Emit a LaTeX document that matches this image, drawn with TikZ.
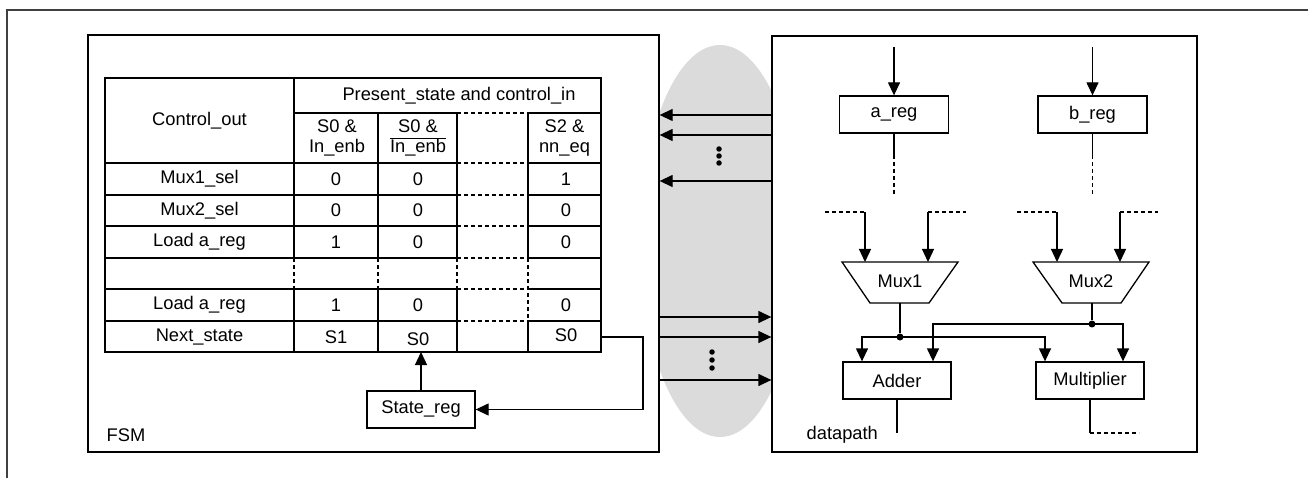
\documentclass[tikz,border=0pt]{standalone}
\usepackage{fontspec}
\setmainfont{Liberation Sans}
\usetikzlibrary{arrows.meta}
\begin{document}
\begin{tikzpicture}[x=1pt,y=-1pt,line width=1.3pt,
  every node/.style={font=\fontsize{18.3}{20}\selectfont,inner sep=0pt},
  blk/.style={draw,line width=1.3pt,fill=white},
  dsh/.style={dash pattern=on 4pt off 3pt},
  arr/.style={-{Triangle[length=13pt,width=12pt]}},
  jdot/.style={circle,fill,minimum size=7pt},
  vdot/.style={circle,fill,minimum size=5.5pt}]
\useasboundingbox (0,0) rectangle (1308,478);

% outer frame
\draw[line width=1.4pt,black!75] (7,478) -- (7,10) -- (1308,10);

% grey interface region between the two blocks
\begin{scope}
  \clip (659,0) rectangle (772,478);
  \fill[black!14] (720,241) ellipse [x radius=80pt,y radius=196pt];
\end{scope}

% the two blocks
\node[draw,minimum width=571pt,minimum height=417pt] (fsm) at (373.5,243.5) {};
\node[draw,minimum width=425pt,minimum height=416pt] (dp) at (984.5,244) {};
\node[anchor=west] (fsmlbl) at (106,435) {FSM};
\node[anchor=west] (dplbl) at (806,435) {datapath};

% ---------- control table ----------
\draw (105,78) rectangle (601,352);
% vertical rules
\draw (294,78) -- (294,258); \draw[dsh] (294,258) -- (294,289); \draw (294,289) -- (294,352);
\draw (378,113) -- (378,258); \draw[dsh] (378,258) -- (378,289); \draw (378,289) -- (378,352);
\draw (457,113) -- (457,258); \draw[dsh] (457,258) -- (457,289); \draw (457,289) -- (457,352);
\draw (528,113) -- (528,258); \draw[dsh] (528,258) -- (528,321); \draw (528,321) -- (528,352);
% horizontal rules
\draw (294,113) -- (457,113); \draw[dsh] (457,113) -- (528,113); \draw (528,113) -- (601,113);
\foreach \y in {163,195,226,258,289,321}{
  \draw (105,\y) -- (457,\y); \draw[dsh] (457,\y) -- (528,\y); \draw (528,\y) -- (601,\y);
}
% header
\node (hco) at (199.5,121) {Control\_out};
\node (hps) at (459,96) {Present\_state and control\_in};
\node[align=center] (h1) at (337,138) {S0 \&\\In\_enb};
\node[align=center] (h2) at (418,138) {S0 \&\\$\overline{\hbox{In\_enb}}$};
\node[align=center] (h4) at (564.5,138) {S2 \&\\nn\_eq};
% body
\foreach \n/\y/\a/\b/\c in {r1/179/Mux1\_sel/0/0, r2/210.5/Mux2\_sel/0/0, r3/242/Load a\_reg/1/0, r5/305/Load a\_reg/1/0}{
  \node (\n a) at (199.5,\y) {\a};
  \node (\n b) at (336,\y) {\b};
  \node (\n c) at (418,\y) {\c};
}
\node (r1d) at (566,179) {1};
\node (r2d) at (566,210.5) {0};
\node (r3d) at (566,242) {0};
\node (r5d) at (566,305) {0};
\node (r6a) at (199.5,337) {Next\_state};
\node (r6b) at (336,337) {S1};
\node (r6c) at (418,339) {S0};
\node (r6d) at (566,335) {S0};

% state register and feedback
\node[blk,minimum width=108pt,minimum height=37pt] (sreg) at (421,409.5) {State\_reg};
\coordinate (tbot) at (421,352);
\coordinate (fbk) at (601,337);
\draw[arr] (sreg.north) -- (tbot);
\draw[arr] (fbk) -- (643,337) |- (sreg.east);

% ---------- interface arrows ----------
\foreach \y in {115,135,181}{
  \draw[arr] (dp.west |- 0,\y) -- (fsm.east |- 0,\y);
}
\foreach \y in {317,337,380}{
  \draw[arr] (fsm.east |- 0,\y) -- (dp.west |- 0,\y);
}
\foreach \y in {149,156,163}{ \node[vdot] at (719,\y) {}; }
\foreach \y in {352,360,368}{ \node[vdot] at (712,\y) {}; }

% ---------- datapath ----------
\node[blk,minimum width=109pt,minimum height=37pt] (areg) at (894,114.5) {a\_reg};
\node[blk,minimum width=109pt,minimum height=37pt] (breg) at (1092.5,114.5) {b\_reg};
\draw[arr] (894,47) -- (areg.north);
\draw[arr] (1092.5,47) -- (breg.north);
\draw (areg.south) -- (894,155); \draw[dsh] (894,155) -- (894,196);
\draw (breg.south) -- (1092.5,155); \draw[dsh] (1092.5,155) -- (1092.5,196);

% multiplexers
\draw (842,262) -- (958,262) -- (929,303) -- (870,303) -- cycle;
\draw (1033,262) -- (1149,262) -- (1121,303) -- (1062,303) -- cycle;
\node (mux1) at (900,281) {Mux1};
\node (mux2) at (1091,281) {Mux2};
\draw[dsh] (825,212) -- (865,212); \draw[arr] (865,212) -- (865,262);
\draw[arr] (928,212) -- (928,262); \draw[dsh] (928,212) -- (966,212);
\draw[dsh] (1017,212) -- (1057,212); \draw[arr] (1057,212) -- (1057,262);
\draw[arr] (1120,212) -- (1120,262); \draw[dsh] (1120,212) -- (1158,212);

% adder and multiplier
\node[blk,minimum width=108pt,minimum height=37pt] (add) at (897,380.5) {Adder};
\node[blk,minimum width=108pt,minimum height=37pt] (mul) at (1090,380.5) {Multiplier};
\node[jdot] (j1) at (900,337) {};
\node[jdot] (j2) at (1092,324) {};
\draw (900,303) -- (j1);
\draw (1092,303) -- (j2);
\draw[arr] (j1.center) -| (add.north -| 862,0);
\draw[arr] (j1.center) -| (mul.north -| 1045,0);
\draw[arr] (j2.center) -| (add.north -| 933,0);
\draw[arr] (j2.center) -| (mul.north -| 1123,0);
\draw (add.south) -- (897,433);
\draw (mul.south) -- (1090,433); \draw[dsh] (1090,433) -- (1139,433);
\end{tikzpicture}
\end{document}
